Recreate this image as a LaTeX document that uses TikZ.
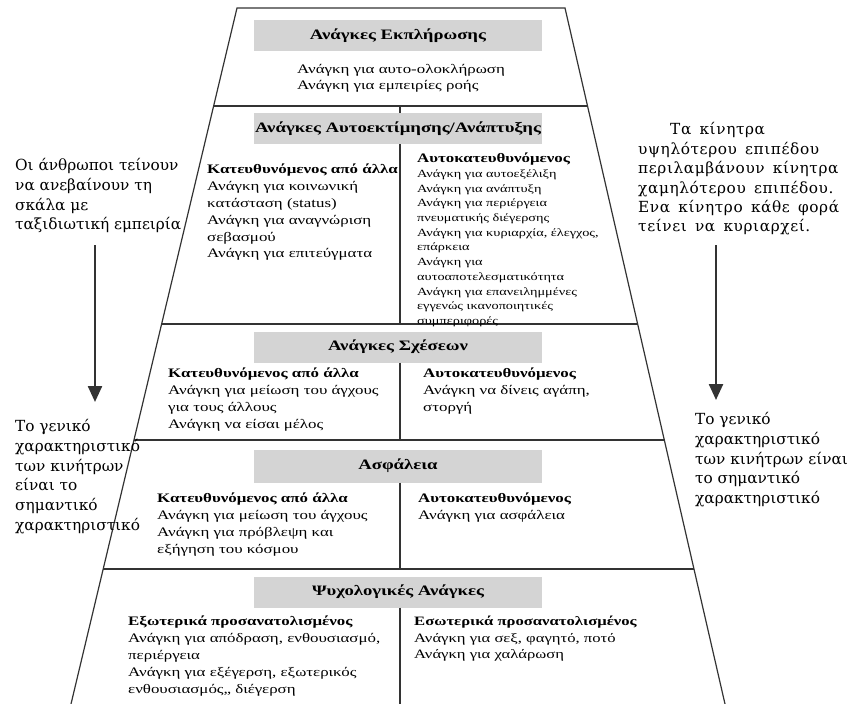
\documentclass[tikz,border=0pt]{standalone}
\usepackage{fontspec}
\setmainfont{Liberation Serif}[FakeStretch=1.3]
\newfontfamily\sidefont{DejaVu Serif}
\newfontfamily\sidewide{DejaVu Serif}[LetterSpace=4, WordSpace=1.5]
\usetikzlibrary{arrows.meta, calc}
\definecolor{boxGray}{RGB}{212,212,212}
\colorlet{lineGray}{black!80}

\tikzset{
  title/.style = {fill=boxGray, minimum width=288pt, minimum height=31pt, inner sep=0pt,
                  font=\bfseries\fontsize{14.4}{16}\selectfont},
  body/.style  = {anchor=north west, align=left, inner sep=0pt,
                  font=\fontsize{13}{16.8}\selectfont, execute at begin node=\strut},
  small/.style = {body, font=\fontsize{11}{14.7}\selectfont},
  side/.style  = {body, font=\sidefont\fontsize{15.3}{19.8}\selectfont},
  sidewide/.style = {body, font=\sidewide\fontsize{15.3}{19.4}\selectfont},
  frame/.style = {lineGray, line width=1.2pt},
  down/.style  = {lineGray, line width=2.4pt, -{Triangle[width=14pt, length=16pt]}}
}

\begin{document}
\begin{tikzpicture}[x=1pt, y=-1pt]
		\useasboundingbox (0,0) rectangle (849,704);
		%%%%%%%%%%%%% frame of the pyramid
		\coordinate (tl) at (237,8); \coordinate (tr) at (565,8);
		\coordinate (bl) at (71,704); \coordinate (br) at (725,704);
		\coordinate (l1) at ($(tl)!0.1408!(bl)$); \coordinate (r1) at ($(tr)!0.1408!(br)$);
		\coordinate (l2) at ($(tl)!0.4540!(bl)$); \coordinate (r2) at ($(tr)!0.4540!(br)$);
		\coordinate (l3) at ($(tl)!0.6207!(bl)$); \coordinate (r3) at ($(tr)!0.6207!(br)$);
		\coordinate (l4) at ($(tl)!0.8060!(bl)$); \coordinate (r4) at ($(tr)!0.8060!(br)$);
		\draw [frame] (bl) -- (tl) -- (tr) -- (br);
		\draw [frame] (l1) -- (r1); \draw [frame] (l2) -- (r2);
		\draw [frame] (l3) -- (r3); \draw [frame] (l4) -- (r4);
		\draw [frame] (400,106) -- (400,324);
		%%%%%%%%%%%%% titles
		\node [title] (t1) at (398,35.5) {Ανάγκες Εκπλήρωσης};
		\node [title] (t2) at (398,128.5) {Ανάγκες Αυτοεκτίμησης/Ανάπτυξης};
		\node [title] (t3) at (398,347) {Ανάγκες Σχέσεων};
		\node [title, minimum height=33pt] (t4) at (398,466) {Ασφάλεια};
		\node [title] (t5) at (398,592) {Ψυχολογικές Ανάγκες};
		\draw [frame] (t3.south -| 400,0) -- (400,440);
		\draw [frame] (t4.south -| 400,0) -- (400,569);
		\draw [frame] (t5.south -| 400,0) -- (400,704);
		%%%%%%%%%%%%% level texts
		\node [body, font=\fontsize{13}{16}\selectfont] (a1) at (297,64.5)
			{Ανάγκη για αυτο-ολοκλήρωση\\ Ανάγκη για εμπειρίες ροής};
		\node [body] (b1) at (207,164)
			{\textbf{Κατευθυνόμενος από άλλα}\\ Ανάγκη για κοινωνική\\ κατάσταση (status)\\
			 Ανάγκη για αναγνώριση\\ σεβασμού\\ Ανάγκη για επιτεύγματα};
		\node [body] (b2) at (417,150.5) {\textbf{Αυτοκατευθυνόμενος}};
		\node [small] (b3) at (417,169.5)
			{Ανάγκη για αυτοεξέλιξη\\ Ανάγκη για ανάπτυξη\\ Ανάγκη για περιέργεια\\
			 πνευματικής διέγερσης\\ Ανάγκη για κυριαρχία, έλεγχος,\\ επάρκεια\\ Ανάγκη για\\
			 αυτοαποτελεσματικότητα\\ Ανάγκη για επανειλημμένες\\ εγγενώς ικανοποιητικές\\ συμπεριφορές};
		\node [body] (c1) at (168,368)
			{\textbf{Κατευθυνόμενος από άλλα}\\ Ανάγκη για μείωση του άγχους\\ για τους άλλους\\ Ανάγκη να είσαι μέλος};
		\node [body] (c2) at (423,368)
			{\textbf{Αυτοκατευθυνόμενος}\\ Ανάγκη να δίνεις αγάπη,\\ στοργή};
		\node [body] (d1) at (157,493)
			{\textbf{Κατευθυνόμενος από άλλα}\\ Ανάγκη για μείωση του άγχους\\ Ανάγκη για πρόβλεψη και\\ εξήγηση του κόσμου};
		\node [body] (d2) at (418,493)
			{\textbf{Αυτοκατευθυνόμενος}\\ Ανάγκη για ασφάλεια};
		\node [body] (e1) at (128,616)
			{\textbf{Εξωτερικά προσανατολισμένος}\\ Ανάγκη για απόδραση, ενθουσιασμό,\\ περιέργεια\\
			 Ανάγκη για εξέγερση, εξωτερικός\\ ενθουσιασμός,, διέγερση};
		\node [body, font=\fontsize{12.8}{16.5}\selectfont] (e2) at (414,616)
			{\textbf{Εσωτερικά προσανατολισμένος}\\ Ανάγκη για σεξ, φαγητό, ποτό\\ Ανάγκη για χαλάρωση};
		%%%%%%%%%%%%% side notes
		\node [side] (s1) at (15,158)
			{Οι άνθρωποι τείνουν\\ να ανεβαίνουν τη\\ σκάλα με\\ ταξιδιωτική εμπειρία};
		\node [side] (s2) at (15,419)
			{Το γενικό\\ χαρακτηριστικό\\ των κινήτρων\\ είναι το\\ σημαντικό\\ χαρακτηριστικό};
		\node [sidewide] (s3) at (638,122.5)
			{\hspace*{32pt}Τα κίνητρα\\ υψηλότερου επιπέδου\\ περιλαμβάνουν κίνητρα\\
			 χαμηλότερου επιπέδου.\\ Ενα κίνητρο κάθε φορά\\ τείνει να κυριαρχεί.};
		\node [side] (s4) at (695,412)
			{Το γενικό\\ χαρακτηριστικό\\ των κινήτρων είναι\\ το σημαντικό\\ χαρακτηριστικό};
		\coordinate (p1) at (95,245); \coordinate (q1) at (95,402);
		\coordinate (p2) at (716,245); \coordinate (q2) at (716,400);
		\draw [down] (p1) to (q1); \draw [down] (p2) to (q2);
\end{tikzpicture}
\end{document}
